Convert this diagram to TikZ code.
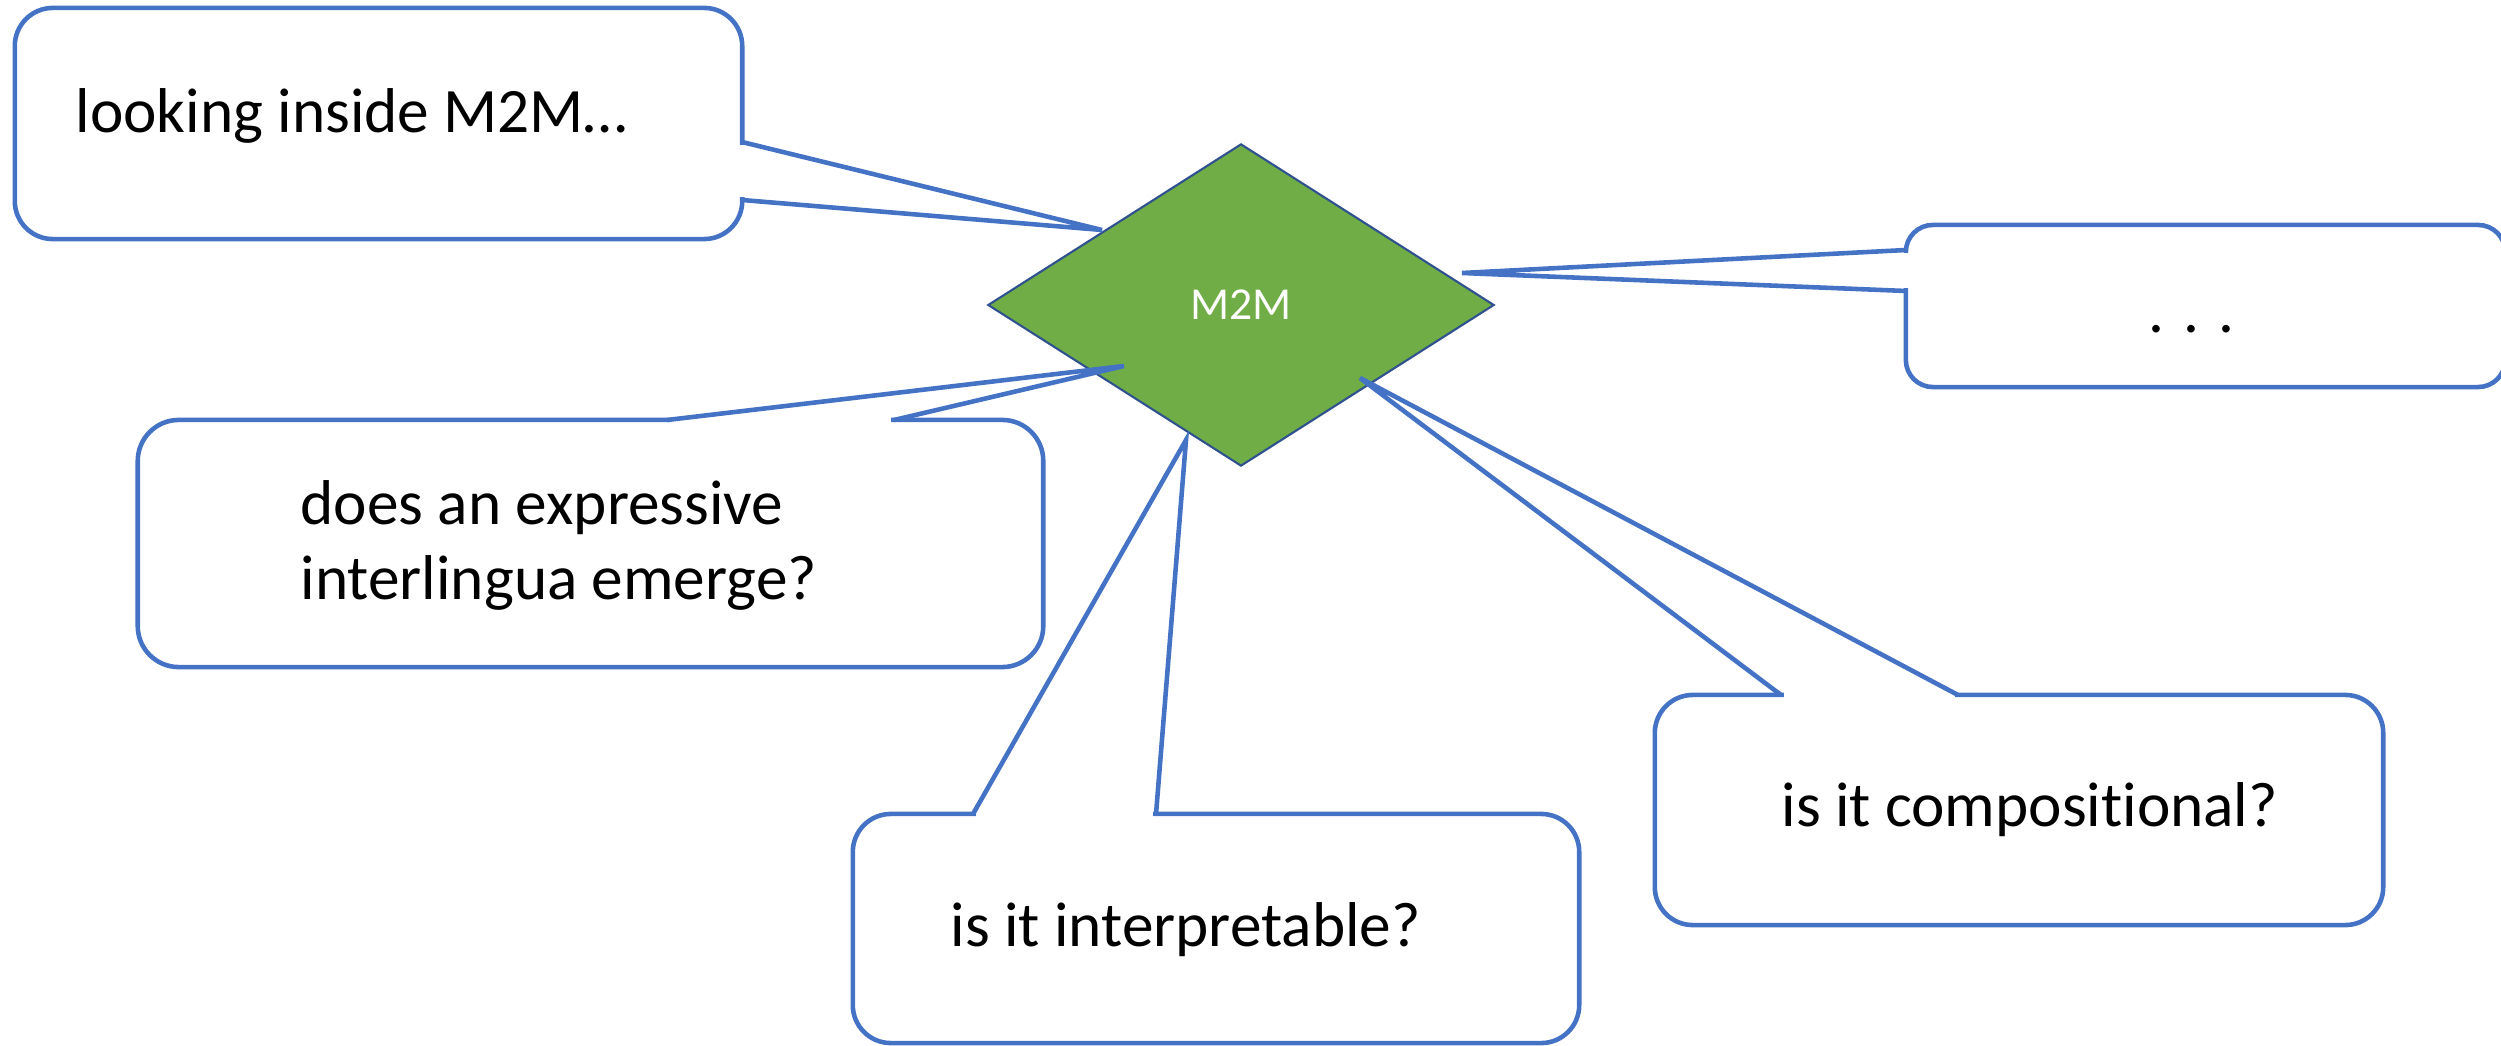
\documentclass[tikz,border=0pt]{standalone}
\usepackage{fontspec}
\setmainfont{Carlito}[Ligatures=NoCommon]
\usetikzlibrary{shapes.geometric}
\definecolor{callblue}{HTML}{4472C4}
\definecolor{mgreen}{HTML}{70AD47}
\definecolor{mborder}{HTML}{2F528F}

\begin{document}
\begin{tikzpicture}[x=0.01cm,y=-0.01cm,
  bubble/.style={draw=callblue,line width=1.3pt,rounded corners=#1,inner sep=0pt},
  bubble/.default=0.38cm,
  gap/.style={draw=white,line width=2.2pt,shorten <=0.8pt,shorten >=0.8pt},
  tail/.style={draw=callblue,line width=1.3pt,line join=miter},
  txt/.style={anchor=base west,inner sep=0pt,font=\fontsize{18}{21.6}\selectfont}]
\useasboundingbox (0,0) rectangle (2501,1046);

% the model
\node (m2m) [diamond,fill=mgreen,draw=mborder,line width=0.6pt,inner sep=0pt,
  minimum width=5.06cm,minimum height=3.22cm,text=white,
  font=\fontsize{13}{15}\selectfont] at (1241,305) {M2M};

% callout boxes
\node (look) [bubble,minimum width=7.27cm,minimum height=2.31cm] at (378.5,123.5) {};
\node (emerge) [bubble=0.41cm,minimum width=9.05cm,minimum height=2.47cm] at (590.5,543.5) {};
\node (interp) [bubble,minimum width=7.26cm,minimum height=2.29cm] at (1216,928.5) {};
\node (compo) [bubble,minimum width=7.28cm,minimum height=2.30cm] at (2019,810) {};
\node (more) [bubble=0.27cm,minimum width=5.99cm,minimum height=1.62cm] at (2205.5,306) {};

\node (look-t) [txt] at (75,133) {looking inside M2M…};
\node (emerge-t) [txt] at (300,524) {\begin{tabular}[t]{@{}l@{}}does an expressive\\interlingua emerge?\end{tabular}};
\node (interp-t) [txt] at (950,946) {is it interpretable?};
\node (compo-t) [txt] at (1781,826) {is it compositional?};
\node (more-t) [txt,anchor=base] at (2192,333) {. . .};

% tails
\coordinate (look-a) at (742,142);
\coordinate (look-b) at (742,200);
\coordinate (look-tip) at (1102,230);
\coordinate (emerge-a) at (667,420);
\coordinate (emerge-b) at (894,420);
\coordinate (emerge-tip) at (1124,366);
\coordinate (interp-a) at (973,814);
\coordinate (interp-b) at (1156,814);
\coordinate (interp-tip) at (1186,440);
\coordinate (compo-a) at (1781,695);
\coordinate (compo-b) at (1958,695);
\coordinate (compo-tip) at (1360,378);
\coordinate (more-a) at (1906,250);
\coordinate (more-b) at (1906,291);
\coordinate (more-tip) at (1462,273);

\foreach \c in {look,emerge,interp,compo,more}{
  \draw[gap] (\c-a) -- (\c-b);
  \draw[tail] (\c-a) -- (\c-tip) -- (\c-b);
}
\end{tikzpicture}
\end{document}
